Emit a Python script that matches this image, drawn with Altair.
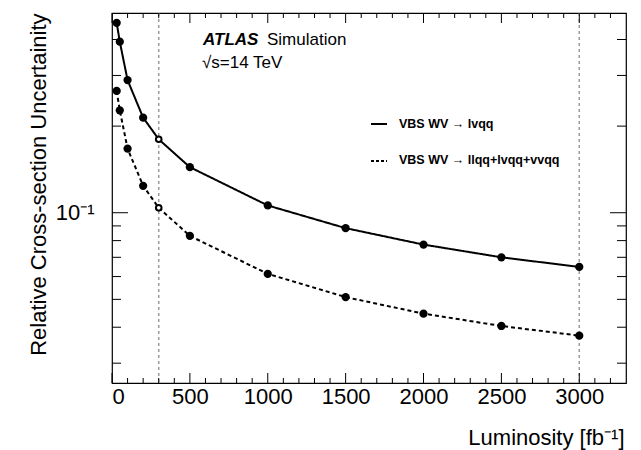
import altair as alt
import pandas as pd

# ---- data ----
lumi = [30, 50, 100, 200, 300, 500, 1000, 1500, 2000, 2500, 3000]
unc_lvqq = [0.457, 0.393, 0.289, 0.214, 0.180, 0.144, 0.106, 0.0884, 0.0775, 0.0700, 0.0648]
unc_all = [0.265, 0.227, 0.167, 0.124, 0.104, 0.0831, 0.0613, 0.0509, 0.0446, 0.0404, 0.0374]
series_names = ["VBS WV \u2192 lvqq", "VBS WV \u2192 llqq+lvqq+vvqq"]
open_marker_lumi = [300]
ref_lumi = [300, 3000]

x_major = [0, 500, 1000, 1500, 2000, 2500, 3000]
x_minor = [v for v in range(100, 3300, 100) if v % 500 != 0]
y_major = [0.1]
y_minor = [0.03, 0.04, 0.05, 0.06, 0.07, 0.08, 0.09, 0.2, 0.3, 0.4]

W, H = 514, 370
FONT = "Liberation Sans"

rows = []
for name, vals in zip(series_names, [unc_lvqq, unc_all]):
    for l, u in zip(lumi, vals):
        rows.append({"series": name, "lumi": l, "unc": u, "open": l in open_marker_lumi})
df = pd.DataFrame(rows)

xs = alt.Scale(domain=[0, 3300], nice=False, zero=False)
ys = alt.Scale(type="log", domain=[0.0256, 0.4945], nice=False)

xaxis = alt.Axis(values=x_major, format="d", ticks=False, tickSize=0, domain=False, grid=False,
                 labelFontSize=22, labelPadding=3, labelColor="black", labelFont=FONT,
                 title="Luminosity [fb\u207b\u00b9]", titleFont=FONT, titleFontSize=22,
                 titleFontWeight="normal", titleColor="black", titleAnchor="end",
                 titleAlign="right", titleBaseline="alphabetic", titleX=512, titleY=61)
yaxis = alt.Axis(values=y_major, ticks=False, tickSize=0, domain=False, grid=False,
                 labelExpr="'10\u207b\u00b9'", labelFontSize=22, labelPadding=18,
                 labelColor="black", labelFont=FONT,
                 title="Relative Cross-section Uncertainity", titleFont=FONT, titleFontSize=22,
                 titleFontWeight="normal", titleColor="black", titleAngle=-90,
                 titleAlign="right", titleBaseline="middle", titleX=-74, titleY=0)

X = alt.X("lumi:Q", scale=xs, axis=xaxis)
Y = alt.Y("unc:Q", scale=ys, axis=yaxis)

refs = alt.Chart(pd.DataFrame({"lumi": ref_lumi})).mark_rule(
    color="#9a9a9a", strokeDash=[3, 3], strokeWidth=1.5).encode(x=X)

lines = alt.Chart(df).mark_line(color="black", strokeWidth=2).encode(
    x=X, y=Y,
    strokeDash=alt.StrokeDash("series:N", scale=alt.Scale(domain=series_names, range=[[1, 0], [4, 3]]), legend=None),
    detail="series:N")

pts = alt.Chart(df[~df["open"]]).mark_circle(size=68, color="black", opacity=1).encode(x=X, y=Y)
opts = alt.Chart(df[df["open"]]).mark_point(shape="circle", size=32, fill="white", filled=True,
                                            stroke="black", strokeWidth=2, opacity=1).encode(x=X, y=Y)

# inward ticks on all four sides
def xticks(vals, length):
    d = pd.DataFrame({"lumi": vals})
    bot = alt.Chart(d).mark_rule(color="black", strokeWidth=1).encode(
        x=X, y=alt.value(H), y2=alt.value(H - length))
    top = alt.Chart(d).mark_rule(color="black", strokeWidth=1).encode(
        x=X, y=alt.value(0), y2=alt.value(length))
    return [bot, top]

def yticks(vals, length):
    d = pd.DataFrame({"unc": vals})
    left = alt.Chart(d).mark_rule(color="black", strokeWidth=1).encode(
        y=Y, x=alt.value(0), x2=alt.value(length))
    right = alt.Chart(d).mark_rule(color="black", strokeWidth=1).encode(
        y=Y, x=alt.value(W), x2=alt.value(W - length))
    return [left, right]

tick_layers = xticks(x_major, 10) + xticks(x_minor, 5) + yticks(y_major, 16) + yticks(y_minor, 9)

def txt(s, x, y, size, weight="normal", style="normal", color="black"):
    return alt.Chart(pd.DataFrame({"t": [s]})).mark_text(
        font=FONT, fontSize=size, fontWeight=weight, fontStyle=style, color=color,
        align="left", baseline="alphabetic").encode(x=alt.value(x), y=alt.value(y), text="t:N")

texts = [
    txt("ATLAS", 91, 32, 17, weight="bold", style="italic"),
    txt("Simulation", 155, 32, 17),
    txt("\u221as=14 TeV", 90, 55, 17),
    txt(series_names[0], 287, 115, 12.5, weight="bold"),
    txt(series_names[1], 287, 151, 12.5, weight="bold"),
]

leg1 = alt.Chart(pd.DataFrame({"s": [series_names[0]]})).mark_rule(color="black", strokeWidth=2).encode(
    x=alt.value(259), x2=alt.value(275), y=alt.value(111))
leg2 = alt.Chart(pd.DataFrame({"s": [series_names[1]]})).mark_rule(color="black", strokeWidth=2, strokeDash=[3, 2]).encode(
    x=alt.value(259), x2=alt.value(275), y=alt.value(148))

chart = alt.layer(refs, lines, pts, opts, *tick_layers, leg1, leg2, *texts).properties(
    width=W, height=H,
    autosize=alt.AutoSizeParams(type="none"),
    padding={"left": 112, "top": 13, "right": 15, "bottom": 67},
    background="white",
).configure_view(stroke="black", strokeWidth=1.2).configure_axis(labelFont=FONT, titleFont=FONT)

chart.save("out.html", embed_options={"renderer": "svg", "actions": False})
